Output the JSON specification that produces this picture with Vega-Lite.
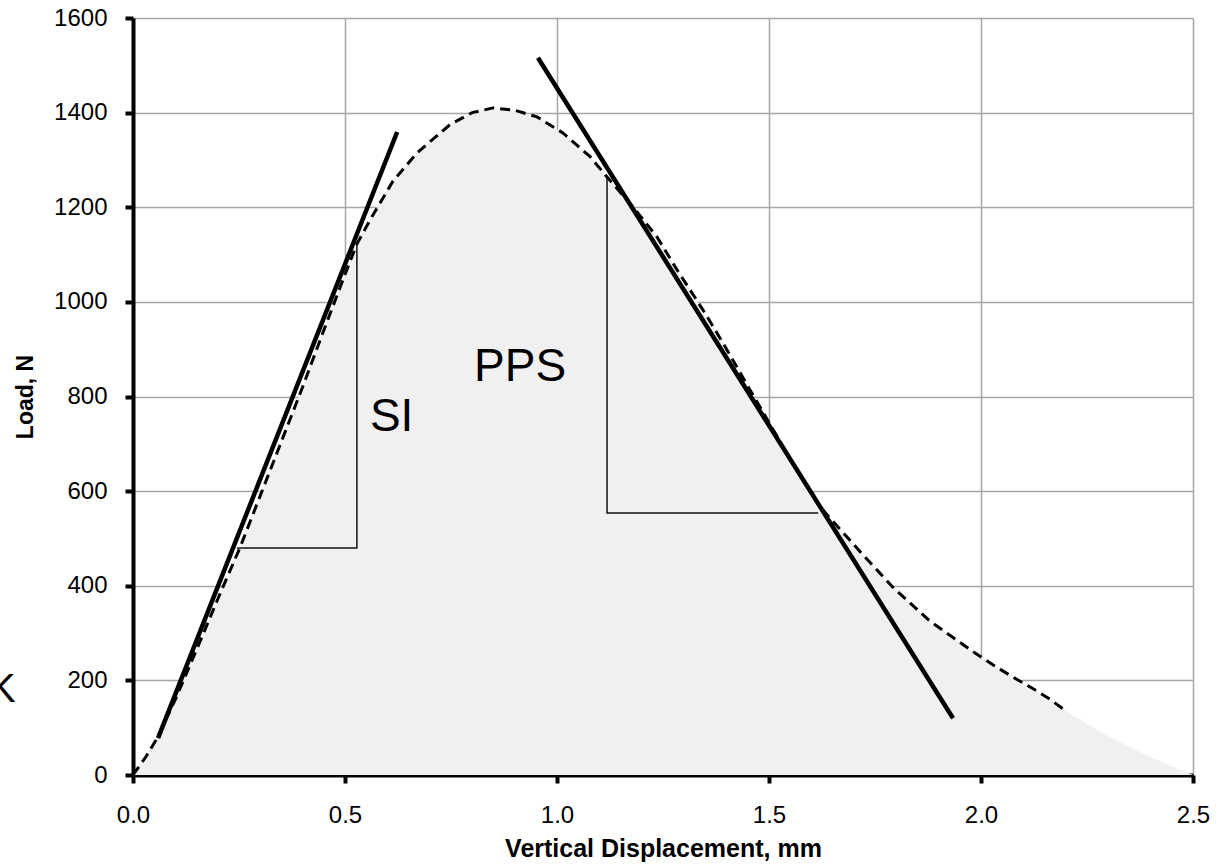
{
  "$schema": "https://vega.github.io/schema/vega-lite/v6.json",
  "width": 1060,
  "height": 757,
  "autosize": {"type": "none"},
  "padding": {"left": 133, "top": 18, "right": 31, "bottom": 93},
  "background": "white",
  "config": {
    "view": {"stroke": null},
    "font": "Liberation Sans",
    "axis": {
      "domainColor": "black",
      "domainWidth": 4,
      "tickColor": "black",
      "tickWidth": 4,
      "tickSize": 8,
      "gridColor": "#a6a6a6",
      "gridWidth": 1.5,
      "gridOpacity": 1,
      "labelFont": "Liberation Sans",
      "labelColor": "black",
      "labelFlush": false,
      "labelOverlap": false,
      "titleFont": "Liberation Sans",
      "titleFontWeight": "bold",
      "titleColor": "black",
      "zindex": 1
    }
  },
  "datasets": {
    "curve": [
      {"x": 0, "y": 0}, {"x": 0.03, "y": 38}, {"x": 0.057, "y": 78}, {"x": 0.1, "y": 160},
      {"x": 0.15, "y": 265}, {"x": 0.2, "y": 372}, {"x": 0.252, "y": 480}, {"x": 0.3, "y": 590},
      {"x": 0.35, "y": 705}, {"x": 0.4, "y": 820}, {"x": 0.45, "y": 940}, {"x": 0.5, "y": 1058},
      {"x": 0.528, "y": 1122}, {"x": 0.559, "y": 1173}, {"x": 0.613, "y": 1255}, {"x": 0.67, "y": 1315},
      {"x": 0.748, "y": 1375}, {"x": 0.8, "y": 1400}, {"x": 0.849, "y": 1410}, {"x": 0.9, "y": 1405},
      {"x": 0.953, "y": 1391}, {"x": 1.014, "y": 1357}, {"x": 1.078, "y": 1307}, {"x": 1.118, "y": 1264},
      {"x": 1.179, "y": 1201}, {"x": 1.236, "y": 1137}, {"x": 1.283, "y": 1068}, {"x": 1.35, "y": 975},
      {"x": 1.4, "y": 900}, {"x": 1.45, "y": 822}, {"x": 1.5, "y": 745}, {"x": 1.55, "y": 668},
      {"x": 1.62, "y": 567}, {"x": 1.675, "y": 512}, {"x": 1.715, "y": 472}, {"x": 1.755, "y": 433},
      {"x": 1.792, "y": 397}, {"x": 1.825, "y": 370}, {"x": 1.88, "y": 325}, {"x": 1.943, "y": 285},
      {"x": 1.986, "y": 258}, {"x": 2.028, "y": 233}, {"x": 2.075, "y": 207}, {"x": 2.116, "y": 186},
      {"x": 2.158, "y": 163}, {"x": 2.198, "y": 137}, {"x": 2.28, "y": 92}, {"x": 2.36, "y": 55},
      {"x": 2.44, "y": 22}, {"x": 2.5, "y": 0}
    ],
    "tangents": [
      {"line": "SI", "o": 0, "x": 0.059, "y": 78},
      {"line": "SI", "o": 1, "x": 0.623, "y": 1359},
      {"line": "PPS", "o": 0, "x": 0.955, "y": 1516},
      {"line": "PPS", "o": 1, "x": 1.934, "y": 120}
    ],
    "triangles": [
      {"line": "SI", "o": 0, "x": 0.245, "y": 480},
      {"line": "SI", "o": 1, "x": 0.528, "y": 480},
      {"line": "SI", "o": 2, "x": 0.528, "y": 1125},
      {"line": "PPS", "o": 0, "x": 1.118, "y": 1264},
      {"line": "PPS", "o": 1, "x": 1.118, "y": 554},
      {"line": "PPS", "o": 2, "x": 1.616, "y": 554}
    ],
    "labels": [
      {"text": "PPS", "x": 0.913, "y": 833, "size": 46},
      {"text": "SI", "x": 0.61, "y": 727, "size": 46},
      {"text": "K", "x": -0.308, "y": 154, "size": 40}
    ]
  },
  "encoding": {
    "x": {
      "field": "x", "type": "quantitative",
      "scale": {"domain": [0, 2.5], "nice": false, "zero": false},
      "axis": {
        "title": "Vertical Displacement, mm",
        "titleFontSize": 25,
        "titlePadding": 9,
        "values": [0, 0.5, 1, 1.5, 2, 2.5],
        "format": ".1f",
        "labelFontSize": 24,
        "labelPadding": 20
      }
    },
    "y": {
      "field": "y", "type": "quantitative",
      "scale": {"domain": [0, 1600], "nice": false},
      "axis": {
        "title": "Load, N",
        "titleFontSize": 23,
        "titlePadding": 16,
        "values": [0, 200, 400, 600, 800, 1000, 1200, 1400, 1600],
        "format": "d",
        "labelFontSize": 24,
        "labelPadding": 18
      }
    }
  },
  "layer": [
    {
      "data": {"name": "curve"},
      "mark": {"type": "area", "color": "#f0f0f0", "opacity": 1}
    },
    {
      "data": {"name": "curve"},
      "transform": [{"filter": "datum.x <= 2.2"}],
      "mark": {"type": "line", "color": "black", "strokeWidth": 3, "strokeDash": [10, 6]}
    },
    {
      "data": {"name": "triangles"},
      "mark": {"type": "line", "color": "#111111", "strokeWidth": 1.5},
      "encoding": {"detail": {"field": "line"}, "order": {"field": "o"}}
    },
    {
      "data": {"name": "tangents"},
      "mark": {"type": "line", "color": "black", "strokeWidth": 4.5},
      "encoding": {"detail": {"field": "line"}, "order": {"field": "o"}}
    },
    {
      "data": {"name": "labels"},
      "mark": {"type": "text", "align": "center", "baseline": "alphabetic", "font": "Liberation Sans", "color": "black"},
      "encoding": {
        "text": {"field": "text"},
        "size": {"field": "size", "type": "quantitative", "scale": null}
      }
    }
  ]
}
